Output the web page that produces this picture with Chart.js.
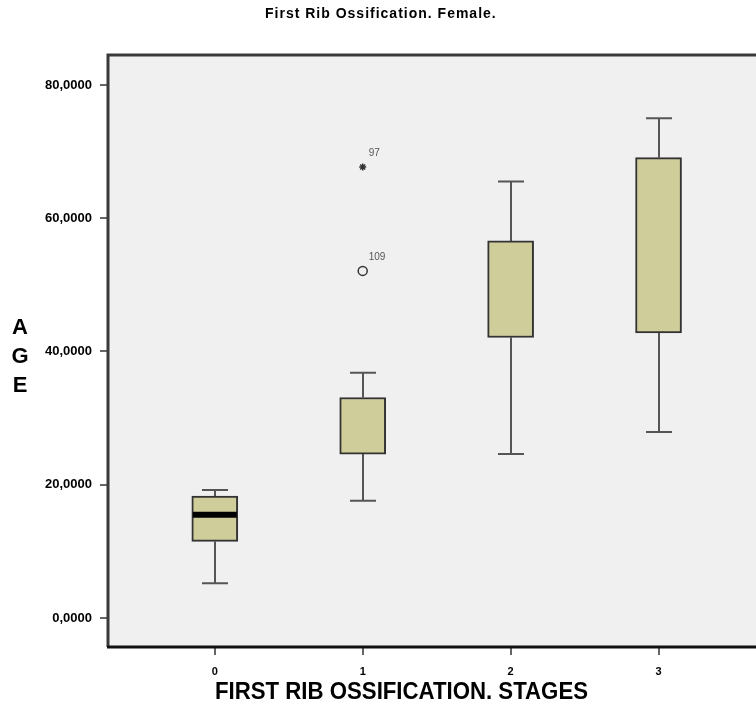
<!DOCTYPE html>
<html><head><meta charset="utf-8">
<script src="https://cdn.jsdelivr.net/npm/chart.js@4.4.0/dist/chart.umd.min.js"></script>
<style>html,body{margin:0;padding:0;background:#fff;overflow:hidden;width:756px;height:709px}canvas{display:block}</style>
</head><body>
<canvas id="c" width="770" height="709"></canvas>
<script>
const chartTitle = 'First Rib Ossification. Female.';
const xAxisTitle = 'FIRST RIB OSSIFICATION. STAGES';
const yAxisTitle = ['A', 'G', 'E'];
const stages = ['0', '1', '2', '3'];
const stageValues = [0, 1, 2, 3];
const whiskerLow = [5.2, 17.6, 24.6, 27.9];
const q1 = [11.5, 24.6, 42.1, 42.8];
const median = [15.5, null, null, null];
const q3 = [18.3, 33.1, 56.6, 69.1];
const whiskerHigh = [19.2, 36.8, 65.5, 75.0];
const outlierStage = [1, 1];
const outlierAge = [67.7, 52.1];
const outlierId = ['97', '109'];
const outlierStyle = ['star', 'circle'];
const yTicks = [0, 20, 40, 60, 80];

const FONT = "'Liberation Sans', Arial, sans-serif";

const boxPlugin = {
  id: 'boxExtras',
  beforeDraw(chart) {
    const {ctx, chartArea: a} = chart;
    ctx.save();
    ctx.fillStyle = '#f0f0f0';
    ctx.fillRect(a.left, a.top, a.right - a.left, a.bottom - a.top);
    ctx.restore();
  },
  beforeDatasetsDraw(chart) {
    const {ctx, scales: {x, y}} = chart;
    ctx.save();
    ctx.strokeStyle = '#555';
    ctx.lineWidth = 2;
    stageValues.forEach((s, i) => {
      const px = Math.round(x.getPixelForValue(s));
      ctx.beginPath();
      ctx.moveTo(px, y.getPixelForValue(q3[i]));
      ctx.lineTo(px, y.getPixelForValue(whiskerHigh[i]));
      ctx.moveTo(px, y.getPixelForValue(q1[i]));
      ctx.lineTo(px, y.getPixelForValue(whiskerLow[i]));
      ctx.stroke();
      ctx.beginPath();
      [whiskerHigh[i], whiskerLow[i]].forEach(v => {
        const py = y.getPixelForValue(v);
        ctx.moveTo(px - 13, py);
        ctx.lineTo(px + 13, py);
      });
      ctx.stroke();
    });
    ctx.restore();
  },
  afterDatasetsDraw(chart) {
    const {ctx, chartArea: a, scales: {x, y}} = chart;
    ctx.save();
    // medians
    ctx.strokeStyle = '#000';
    ctx.lineWidth = 6;
    stageValues.forEach((s, i) => {
      if (median[i] == null) return;
      const px = x.getPixelForValue(s);
      const py = y.getPixelForValue(median[i]);
      ctx.beginPath();
      ctx.moveTo(px - 22, py);
      ctx.lineTo(px + 22, py);
      ctx.stroke();
    });
    // outlier labels
    ctx.fillStyle = '#555';
    ctx.font = '10px ' + FONT;
    ctx.textAlign = 'left';
    ctx.textBaseline = 'middle';
    outlierId.forEach((id, i) => {
      const px = x.getPixelForValue(outlierStage[i]);
      const py = y.getPixelForValue(outlierAge[i]);
      ctx.fillText(id, px + 6, py - 14);
    });
    // frame
    ctx.strokeStyle = '#3a3a3a';
    ctx.lineWidth = 3;
    ctx.beginPath();
    ctx.moveTo(a.left, a.bottom);
    ctx.lineTo(a.left, a.top);
    ctx.lineTo(a.right, a.top);
    ctx.stroke();
    ctx.strokeStyle = '#111';
    ctx.beginPath();
    ctx.moveTo(a.left - 1, a.bottom);
    ctx.lineTo(a.right, a.bottom);
    ctx.stroke();
    // titles
    ctx.fillStyle = '#000';
    ctx.textBaseline = 'middle';
    ctx.font = 'bold 14px ' + FONT;
    ctx.textAlign = 'left';
    ctx.letterSpacing = '1px';
    ctx.fillText(chartTitle, 265, 14, 241);
    ctx.letterSpacing = '0px';
    ctx.font = 'bold 23px ' + FONT;
    ctx.fillText(xAxisTitle, 215, 693, 373);
    ctx.font = 'bold 22px ' + FONT;
    ctx.textAlign = 'center';
    yAxisTitle.forEach((ch, i) => ctx.fillText(ch, 20, 328 + i * 29));
    ctx.restore();
  }
};

new Chart(document.getElementById('c'), {
  type: 'bar',
  data: {
    datasets: [
      {
        type: 'bar',
        data: stageValues.map((s, i) => ({x: s, y: [q1[i], q3[i]]})),
        backgroundColor: '#cfce9b',
        borderColor: '#333',
        borderWidth: 2,
        borderSkipped: false,
        barThickness: 46
      },
      {
        type: 'scatter',
        data: outlierStage.map((s, i) => ({x: s, y: outlierAge[i]})),
        pointStyle: outlierStyle,
        radius: [3.5, 4.5],
        borderColor: '#333',
        backgroundColor: 'rgba(0,0,0,0)',
        borderWidth: 1.5
      }
    ]
  },
  options: {
    responsive: false,
    animation: false,
    layout: {padding: {left: 0, right: 3, top: 55, bottom: 0}},
    plugins: {
      legend: {display: false},
      tooltip: {enabled: false},
      title: {display: false}
    },
    scales: {
      x: {
        type: 'linear',
        min: -0.722,
        max: 3.713,
        offset: false,
        afterBuildTicks(s) { s.ticks = stageValues.map(v => ({value: v})); },
        afterFit(s) { s.height = 62; },
        ticks: {
          callback: v => stages[v],
          color: '#000',
          font: {family: FONT, size: 11, weight: 'bold'},
          padding: 10,
          maxRotation: 0
        },
        grid: {offset: false, drawOnChartArea: false, drawTicks: true, tickLength: 8, color: '#666', lineWidth: 2},
        border: {display: false}
      },
      y: {
        type: 'linear',
        min: -4.35,
        max: 84.5,
        afterBuildTicks(s) { s.ticks = yTicks.map(v => ({value: v})); },
        afterFit(s) { s.width = 108; },
        ticks: {
          callback: v => v.toFixed(4).replace('.', ','),
          color: '#000',
          font: {family: FONT, size: 13, weight: 'bold'},
          padding: 8
        },
        grid: {drawOnChartArea: false, drawTicks: true, tickLength: 8, color: '#666', lineWidth: 2},
        border: {display: false}
      }
    }
  },
  plugins: [boxPlugin]
});
</script>
</body></html>
